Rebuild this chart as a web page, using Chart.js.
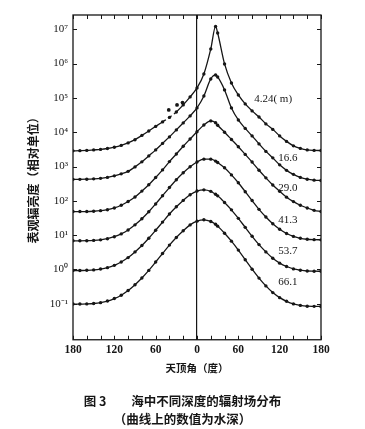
<!DOCTYPE html>
<html><head><meta charset="utf-8">
<script src="https://cdn.jsdelivr.net/npm/chart.js@4/dist/chart.umd.min.js"></script>
<style>html,body{margin:0;padding:0;background:#fff;}#wrap{width:365px;height:429px;}</style>
</head><body><div id="wrap"><canvas id="c" width="365" height="429"></canvas></div>
<script>
// zenith angle (deg): negative = left half of the plot
const angles = [-180,-170,-160,-150,-140,-130,-120,-110,-100,-90,-80,-70,-60,-50,-40,-30,-20,-10,0,10,20,27,30,40,50,60,70,80,90,100,110,120,130,140,150,160,170,180];
const depthLabels = ['4.24( m)','16.6','29.0','41.3','53.7','66.1'];
const d424 = [2860,2900,2950,3055,3160,3356,3662,4131,4885,6055,8077,10900,14800,20000,27000,39000,62500,107000,195000,499000,2670000,12100000,7800000,976000,273000,122000,66800,41800,27900,17500,12100,7810,5400,4000,3380,3050,2950,2920];
const d166 = [423,423,428,437,452,483,535,611,723,977,1370,2040,3055,4720,7300,11700,18700,29900,51100,114000,357000,467000,408000,171000,51100,22800,12900,7810,4570,2760,1790,1120,773,591,483,428,401,390];
const d290 = [48.8,48.8,48.8,49.8,51.8,55.1,62.1,74.4,95.4,129,192,294,477,799,1390,2320,3890,6350,10300,16200,21400,18900,16000,10000,6150,3780,2260,1350,780,468,290,190,128,95,74.4,62.1,52.9,48.8];
const d413 = [6.84,6.84,6.89,7.03,7.31,7.88,9.00,10.9,14.1,20.0,30.1,48.1,81.2,141,244,412,658,990,1360,1640,1640,1440,1310,920,571,337,185,102,56.5,33.8,21.4,14.8,11.2,9.19,8.09,7.61,7.41,7.31];
const d537 = [0.933,0.933,0.946,0.972,1.03,1.13,1.32,1.65,2.22,3.25,4.99,8.14,13.9,24.0,41.3,67.3,103,151,193,209,189,155,140,89.8,54.7,30.9,16.9,9.25,5.30,3.25,2.12,1.53,1.22,1.04,0.953,0.903,0.891,0.885];
const d661 = [0.0981,0.0981,0.0994,0.102,0.108,0.120,0.142,0.178,0.243,0.360,0.565,0.940,1.65,2.92,5.13,8.53,13.4,19.9,25.6,28.0,25.1,20.7,18.3,11.4,6.70,3.67,1.93,1.02,0.561,0.332,0.212,0.151,0.118,0.0994,0.0899,0.0852,0.0841,0.0835];
// scattered measurements above the 4.24 m curve
const extraAngles = [-41,-29,-21];
const extraValues = [44700,62500,73000];
const xTickLabels = [180,120,60,0,60,120,180];

const series = [d424,d166,d290,d413,d537,d661];
const INK = '#161616';
const YMIN = Math.pow(10,-2.048), YMAX = Math.pow(10,7.416);
const sup = {'0':'⁰','1':'¹','2':'²','3':'³','4':'⁴','5':'⁵','6':'⁶','7':'⁷','8':'⁸','9':'⁹','-':'⁻'};
function isDecade(v){const l=Math.log10(v);return Math.abs(l-Math.round(l))<1e-6 && l>-1.5;}

const datasets = series.map((vals,i)=>({
  label: depthLabels[i],
  data: angles.map((a,k)=>({x:a,y:vals[k]})),
  borderColor: INK, backgroundColor: INK, borderWidth: 1.3,
  pointRadius: 1.7, pointBorderWidth: 0, pointBackgroundColor: INK,
  cubicInterpolationMode: 'monotone',
  segment: i===0 ? {borderDash: c => (c.p0.parsed.x>=-50 && c.p1.parsed.x<=-30) ? [4,3] : undefined} : undefined
}));
datasets.push({
  label: 'obs',
  data: extraAngles.map((a,k)=>({x:a,y:extraValues[k]})),
  showLine: false, pointRadius: 1.9, pointBorderWidth: 0,
  pointBackgroundColor: INK, borderColor: INK
});

const labelPlugin = {
  id: 'depthLabels',
  afterDatasetsDraw(chart, args, opts){
    const {ctx, scales:{x,y}} = chart;
    ctx.save();
    ctx.fillStyle = INK; ctx.font = opts.font; ctx.textAlign='left'; ctx.textBaseline='middle';
    opts.anchors.forEach((p,i)=>{ ctx.fillText(depthLabels[i], x.getPixelForValue(p[0]), y.getPixelForValue(p[1])); });
    ctx.restore();
  }
};
const framePlugin = {
  id: 'frameTicks',
  afterDraw(chart){
    const {ctx, chartArea:a, scales:{x,y}} = chart;
    ctx.save();
    ctx.strokeStyle = INK; ctx.lineWidth = 1.3;
    ctx.strokeRect(a.left, a.top, a.right-a.left, a.bottom-a.top);
    ctx.lineWidth = 1;
    ctx.beginPath();
    x.ticks.forEach(t=>{
      const px = Math.round(x.getPixelForValue(t.value))+0.5;
      ctx.moveTo(px,a.bottom); ctx.lineTo(px,a.bottom-4);
      ctx.moveTo(px,a.top); ctx.lineTo(px,a.top+4);
    });
    y.ticks.forEach(t=>{
      if(!isDecade(t.value)) return;
      const py = Math.round(y.getPixelForValue(t.value))+0.5;
      ctx.moveTo(a.left,py); ctx.lineTo(a.left+4,py);
      ctx.moveTo(a.right,py); ctx.lineTo(a.right-4,py);
    });
    ctx.stroke();
    ctx.restore();
  }
};

new Chart(document.getElementById('c'), {
  type: 'line',
  data: { datasets },
  plugins: [labelPlugin, framePlugin],
  options: {
    responsive: false, animation: false, devicePixelRatio: 1,
    layout: { padding: { left: 0, right: 0, top: 15, bottom: 0 } },
    plugins: {
      legend: { display: false }, tooltip: { enabled: false },
      title: {
        display: true, position: 'bottom',
        text: ['图 3　　海中不同深度的辐射场分布', '（曲线上的数值为水深）'],
        font: { family: '"Noto Sans CJK SC"', size: 12.5, weight: 'bold', lineHeight: 1.45 },
        color: INK, padding: { top: 12, bottom: 1 }
      },
      depthLabels: {
        font: '11px "Liberation Serif"',
        anchors: [[83,93400],[118,1790],[118,239],[118,28.0],[118,3.50],[118,0.438]]
      }
    },
    scales: {
      x: {
        type: 'linear', min: -180, max: 180,
        afterFit(s){ s.height = 40; },
        border: { display: false },
        grid: { drawTicks: false, lineWidth: 1.2, color: c => (c.tick && c.tick.value === 0) ? INK : 'rgba(0,0,0,0)' },
        ticks: { stepSize: 20, autoSkip: false, maxRotation: 0, padding: 3, color: INK,
          font: { family: '"Liberation Serif"', size: 11.5, weight: 'bold' },
          callback: v => (v % 60 === 0) ? String(xTickLabels[(v+180)/60]) : '' },
        title: { display: true, text: '天顶角（度）', color: INK,
          font: { family: '"Noto Sans CJK SC"', size: 10.5, weight: 'bold', lineHeight: 1.2 },
          padding: { top: 0, bottom: 5 } }
      },
      y: {
        type: 'logarithmic', min: YMIN, max: YMAX,
        afterFit(s){ s.width = 73; },
        border: { display: false },
        grid: { display: false, drawTicks: false },
        ticks: { autoSkip: false, padding: 5, color: INK,
          font: { family: '"Liberation Serif"', size: 11 },
          callback: v => { if(!isDecade(v)) return ''; const e = Math.round(Math.log10(v)); return '10' + String(e).split('').map(ch=>sup[ch]).join(''); } },
        title: { display: true, text: '表观辐亮度（相对单位）', color: INK,
          font: { family: '"Noto Sans CJK SC"', size: 12, weight: 'bold', lineHeight: 1.2 },
          padding: { top: 26, bottom: 0 } }
      },
      yRight: {
        type: 'logarithmic', position: 'right', min: YMIN, max: YMAX,
        afterFit(s){ s.width = 44; },
        border: { display: false },
        grid: { display: false, drawTicks: false },
        ticks: { display: false }
      }
    }
  }
});
</script></body></html>
